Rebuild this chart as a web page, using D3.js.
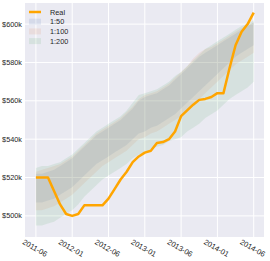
<!DOCTYPE html>
<html>
<head>
<meta charset="utf-8">
<script src="https://cdn.jsdelivr.net/npm/d3@7"></script>
<style>
  body { margin: 0; background: #fff; }
  text { font-family: "Liberation Sans", Arial, sans-serif; fill: #262626; }
</style>
</head>
<body>
<svg width="270" height="261"></svg>
<script>
var tickIdx = [0, 6, 12, 18, 24, 30, 36];
var tickLabels = ["2011-06", "2012-01", "2012-06", "2013-01", "2013-06", "2014-01", "2014-06"];
var yTicks = [500, 520, 540, 560, 580, 600];

// values in $k, one per step
var real = [520,520,520,513,506,501,500,501,505.5,505.5,505.5,505.5,509,514,519,523,528,531,533,534,538,538.5,540,544,552,555,558,560.5,561,562,564,564,577,589,596,600,606];

var lo50  = [507,507,508,509,511,513,515,518,521,524,527,529,531,533,535,537,540,543,544,546,547,549,551,553,556,559,562,565,568,571,574,577,580,583,585,587,589];
var hi50  = [522,522,523,524,526,528,530,533,536,539,542,544,546,548,550,553,556,560,562,563,564,566,568,571,574,577,580,583,585,587,589,591,593,595,597,599,601];
var lo100 = [503,503,504,505,507,509,511,514,517,520,523,526,528,530,532,534,537,540,541,543,544,546,548,550,552,555,558,561,564,567,570,573,576,579,581,583,585];
var hi100 = [523,524,525,526,527,529,531,534,537,540,543,545,547,549,551,554,557,561,563,564,565,567,569,572,575,578,582,585,587,588,590,592,594,596,598,599,601];
var lo200 = [495,495,496,497,499,501,503,506,510,513,516,519,521,523,525,527,530,532,533,535,536,537,539,540,541,544,546,548,551,553,555,558,561,563,565,567,570];
var hi200 = [525,526,526,527,528,530,532,535,538,541,544,546,548,550,552,555,559,563,564,565,566,568,570,573,575,578,581,584,587,589,591,593,595,597,599,600,602];

var bands = [
  {name: "1:50",  lo: lo50,  hi: hi50,  color: "#4C72B0"},
  {name: "1:100", lo: lo100, hi: hi100, color: "#DD8452"},
  {name: "1:200", lo: lo200, hi: hi200, color: "#55A868"}
];

var svg = d3.select("svg"),
    margin = {top: 3, right: 6, bottom: 24, left: 25},
    width = +svg.attr("width") - margin.left - margin.right,
    height = +svg.attr("height") - margin.top - margin.bottom;

var x = d3.scaleLinear().domain([-1.8, 37.7]).range([margin.left, margin.left + width]);
var y = d3.scaleLinear().domain([489, 611]).range([margin.top + height, margin.top]);

svg.append("rect")
    .attr("x", margin.left).attr("y", margin.top)
    .attr("width", width).attr("height", height)
    .attr("fill", "#EAEAF2");

// grid
svg.append("g").selectAll("line").data(tickIdx).enter().append("line")
    .attr("x1", function(d) { return x(d); }).attr("x2", function(d) { return x(d); })
    .attr("y1", margin.top).attr("y2", margin.top + height)
    .attr("stroke", "#fff").attr("stroke-width", 1);
svg.append("g").selectAll("line").data(yTicks).enter().append("line")
    .attr("y1", function(d) { return y(d); }).attr("y2", function(d) { return y(d); })
    .attr("x1", margin.left).attr("x2", margin.left + width)
    .attr("stroke", "#fff").attr("stroke-width", 1);

// tick labels
svg.append("g").selectAll("text").data(yTicks).enter().append("text")
    .attr("x", margin.left - 3)
    .attr("y", function(d) { return y(d); })
    .attr("dy", "0.35em")
    .attr("text-anchor", "end")
    .style("font-size", "7.3px")
    .text(function(d) { return "$" + d + "k"; });

svg.append("g").selectAll("text").data(tickIdx).enter().append("text")
    .attr("transform", function(d) { return "translate(" + (x(d) - 1) + "," + (margin.top + height + 11) + ") rotate(30)"; })
    .attr("text-anchor", "middle")
    .attr("dy", "0.35em")
    .style("font-size", "7.5px")
    .text(function(d, i) { return tickLabels[i]; });

// bands
bands.forEach(function(b) {
  var area = d3.area()
      .x(function(d, i) { return x(i); })
      .y0(function(d, i) { return y(b.lo[i]); })
      .y1(function(d, i) { return y(b.hi[i]); });
  svg.append("path")
      .datum(b.lo)
      .attr("d", area)
      .attr("fill", b.color)
      .attr("fill-opacity", 0.13);
});

var line = d3.line()
    .x(function(d, i) { return x(i); })
    .y(function(d) { return y(d); });

svg.append("path")
    .datum(real)
    .attr("d", line)
    .attr("fill", "none")
    .attr("stroke", "#FFA500")
    .attr("stroke-width", 2.5)
    .attr("stroke-linejoin", "round");

// legend
var legend = svg.append("g").attr("transform", "translate(29,12)");
legend.append("line")
    .attr("x1", 0).attr("x2", 12).attr("y1", 0).attr("y2", 0)
    .attr("stroke", "#FFA500").attr("stroke-width", 2.5);
legend.append("text").attr("x", 21).attr("y", 0).attr("dy", "0.35em")
    .style("font-size", "7.3px").text("Real");
bands.forEach(function(b, i) {
  var yy = 9.7 * (i + 1);
  legend.append("rect")
      .attr("x", 0).attr("y", yy - 3).attr("width", 12).attr("height", 6)
      .attr("fill", b.color).attr("fill-opacity", 0.13);
  legend.append("text").attr("x", 21).attr("y", yy).attr("dy", "0.35em")
      .style("font-size", "7.3px").text(b.name);
});
</script>
</body>
</html>
